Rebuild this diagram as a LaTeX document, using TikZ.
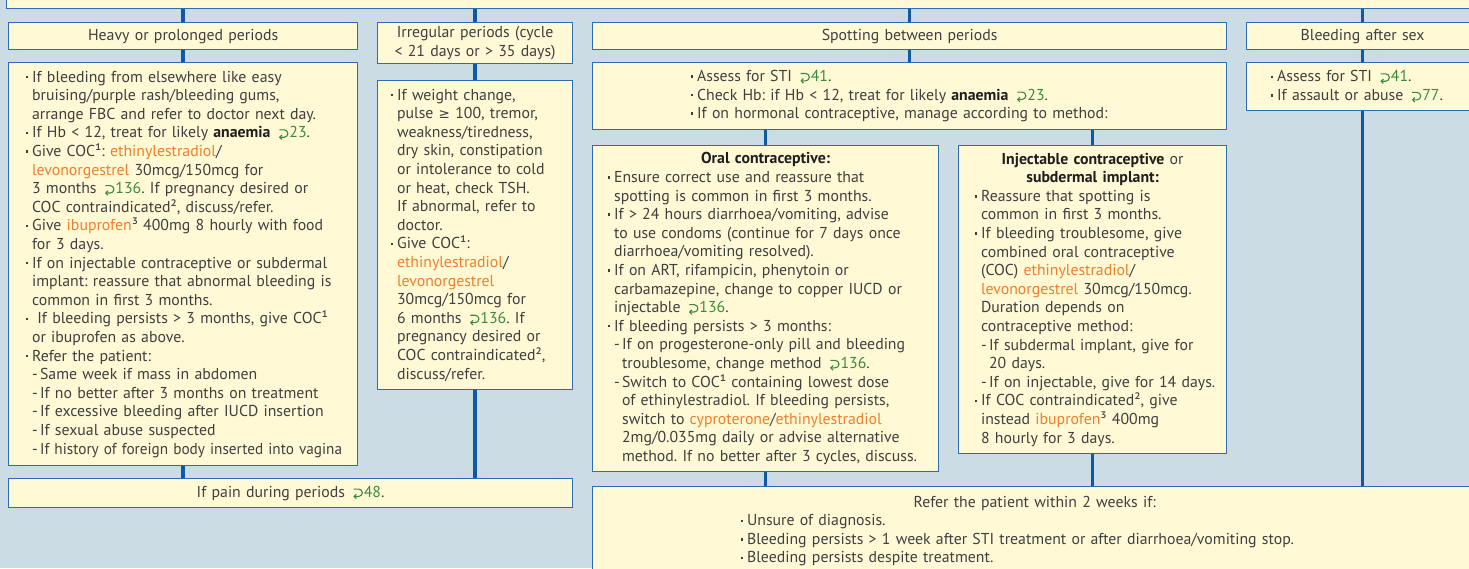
\documentclass[tikz,border=0pt]{standalone}
\usepackage{fontspec}
\setmainfont{PT Sans}
\newfontfamily\symfont{DejaVu Sans}
\usetikzlibrary{backgrounds,arrows.meta}

\definecolor{bgblue}{HTML}{CCDCE4}
\definecolor{boxfill}{HTML}{FFF9D6}
\definecolor{boxline}{HTML}{2D6BB3}
\definecolor{connblue}{HTML}{0C5AA6}
\definecolor{textgrey}{HTML}{3F3F3F}
\definecolor{titleblack}{HTML}{1E1E1E}
\definecolor{drugorange}{HTML}{EF7F2C}
\definecolor{refgreen}{HTML}{3A8A3C}

% list helpers: bullet, continuation indent, dash item, dash continuation
\newcommand\bu{\makebox[6.5pt][l]{\raisebox{3.8pt}{\rule{2.4pt}{2.4pt}}}}
\newcommand\cn{\hspace*{6.5pt}}
\newcommand\ds{\hspace*{6.5pt}\makebox[8pt][l]{-}}
\newcommand\dc{\hspace*{14.5pt}}
\newcommand\drug[1]{\textcolor{drugorange}{#1}}
\newcommand\hl[1]{\textbf{\textcolor{titleblack}{#1}}}
% page cross-reference: hooked return arrow plus page number
\newcommand\pref[1]{\,\tikz[baseline=0pt]\draw[refgreen,line width=1.1pt,-{Straight Barb[length=2.2pt,width=4.6pt]}] (0.5pt,8pt) -- (5.4pt,8pt) arc[start angle=90,end angle=-90,radius=3.7pt] -- (0.2pt,0.6pt);\hspace{1pt}\textcolor{refgreen}{#1}}

\tikzset{
  box/.style={draw=boxline, line width=1.2pt, fill=boxfill, anchor=north west,
    inner sep=0pt, align=left, text=textgrey,
    font=\fontsize{15.8}{18.6}\selectfont\frenchspacing},
  head/.style={box, align=center},
  dims/.style n args={2}{minimum width=#1pt, minimum height=#2pt, text width=#1pt},
  conn/.style={draw=connblue, line width=3.4pt},
}

\begin{document}
\begin{tikzpicture}[x=1pt, y=-1pt]
\useasboundingbox (0,0) rectangle (1469,568);
\clip (0,0) rectangle (1469,568);

% top question box
\node[box, anchor=south west, minimum width=1480pt, minimum height=40pt] (top) at (6,9) {};

% bleeding patterns
\node[head, dims={349}{27}] (h1) at (8,22) {Heavy or prolonged periods};
\node[head, dims={195}{41}] (h2) at (377,22) {Irregular periods (cycle\\< 21 days or > 35 days)};
\node[head, dims={634}{27}] (h3) at (592,22) {Spotting between periods};
\node[head, dims={232}{27}] (h4) at (1246,22) {Bleeding after sex};

% heavy or prolonged periods
\node[box, dims={349}{403}] (c1) at (8,62) {\leftskip=17pt
\bu If bleeding from elsewhere like easy\\
\cn bruising/purple rash/bleeding gums,\\
\cn arrange FBC and refer to doctor next day.\\
\bu If Hb < 12, treat for likely \hl{anaemia} \pref{23}.\\
\bu Give COC¹: \drug{ethinylestradiol}/\\
\cn \drug{levonorgestrel} 30mcg/150mcg for\\
\cn 3 months \pref{136}. If pregnancy desired or\\
\cn COC contraindicated², discuss/refer.\\
\bu Give \drug{ibuprofen}³ 400mg 8 hourly with food\\
\cn for 3 days.\\
\bu If on injectable contraceptive or subdermal\\
\cn implant: reassure that abnormal bleeding is\\
\cn common in first 3 months.\\
\bu\ If bleeding persists > 3 months, give COC¹\\
\cn or ibuprofen as above.\\
\bu Refer the patient:\\
\ds Same week if mass in abdomen\\
\ds If no better after 3 months on treatment\\
\ds If excessive bleeding after IUCD insertion\\
\ds If sexual abuse suspected\\
\ds \scalebox{0.965}[1]{If history of foreign body inserted into vagina}\par};

% irregular periods
\node[box, dims={195}{309}] (c2) at (377,80) {\leftskip=13pt
\bu If weight change,\\
\cn pulse {\symfont\fontsize{13.5}{18.6}\selectfont ≥} 100, tremor,\\
\cn weakness/tiredness,\\
\cn dry skin, constipation\\
\cn or intolerance to cold\\
\cn or heat, check TSH.\\
\cn If abnormal, refer to\\
\cn doctor.\\
\bu Give COC¹:\\
\cn \drug{ethinylestradiol}/\\
\cn \drug{levonorgestrel}\\
\cn 30mcg/150mcg for\\
\cn 6 months \pref{136}. If\\
\cn pregnancy desired or\\
\cn COC contraindicated²,\\
\cn discuss/refer.\par};

% spotting between periods
\node[box, dims={634}{67}] (c3) at (592,62) {\leftskip=98pt
\bu Assess for STI \pref{41}.\\
\bu Check Hb: if Hb < 12, treat for likely \hl{anaemia} \pref{23}.\\
\bu If on hormonal contraceptive, manage according to method:\par};

\node[box, dims={346}{326}] (oral) at (592,145) {\leftskip=15pt
\makebox[316pt][c]{\hl{Oral contraceptive:}}\\
\bu Ensure correct use and reassure that\\
\cn spotting is common in first 3 months.\\
\bu If > 24 hours diarrhoea/vomiting, advise\\
\cn to use condoms (continue for 7 days once\\
\cn diarrhoea/vomiting resolved).\\
\bu If on ART, rifampicin, phenytoin or\\
\cn carbamazepine, change to copper IUCD or\\
\cn injectable \pref{136}.\\
\bu If bleeding persists > 3 months:\\
\ds If on progesterone-only pill and bleeding\\
\dc troublesome, change method \pref{136}.\\
\ds Switch to COC¹ containing lowest dose\\
\dc of ethinylestradiol. If bleeding persists,\\
\dc switch to \drug{cyproterone}/\drug{ethinylestradiol}\\
\dc 2mg/0.035mg daily or advise alternative\\
\dc method. If no better after 3 cycles, discuss.\par};

\node[box, dims={268}{308}] (inj) at (958,145) {\leftskip=16pt
\makebox[236pt][c]{\hl{Injectable contraceptive} or}\\
\makebox[236pt][c]{\hl{subdermal implant:}}\\
\bu Reassure that spotting is\\
\cn common in first 3 months.\\
\bu If bleeding troublesome, give\\
\cn combined oral contraceptive\\
\cn (COC) \drug{ethinylestradiol}/\\
\cn \drug{levonorgestrel} 30mcg/150mcg.\\
\cn Duration depends on\\
\cn contraceptive method:\\
\ds If subdermal implant, give for\\
\dc 20 days.\\
\ds If on injectable, give for 14 days.\\
\bu If COC contraindicated², give\\
\cn instead \drug{ibuprofen}³ 400mg\\
\cn 8 hourly for 3 days.\par};

% bleeding after sex
\node[box, dims={232}{48}] (c4) at (1246,62) {\leftskip=24pt
\bu Assess for STI \pref{41}.\\
\bu If assault or abuse \pref{77}.\par};

% bottom boxes
\node[head, dims={564}{29}] (pain) at (8,478) {If pain during periods \pref{48}.};

\node[box, dims={886}{89}] (refer) at (592,486) {\leftskip=148pt
\hspace*{173pt}Refer the patient within 2 weeks if:\\
\bu Unsure of diagnosis.\\
\bu Bleeding persists > 1 week after STI treatment or after diarrhoea/vomiting stop.\\
\bu Bleeding persists despite treatment.\par};

\begin{scope}[on background layer]
  \fill[bgblue] (0,0) rectangle (1469,568);
  % top box to the four patterns
  \draw[conn] (h1.north |- top.south) -- (h1.north);
  \draw[conn] (h2.north |- top.south) -- (h2.north);
  \draw[conn] (h3.north |- top.south) -- (h3.north);
  \draw[conn] (h4.north |- top.south) -- (h4.north);
  % heavy / irregular
  \draw[conn] (h1.south) -- (c1.north);
  \draw[conn] (c1.south) -- (c1.south |- pain.north);
  \draw[conn] (h2.south) -- (c2.north);
  \draw[conn] (c2.south) -- (c2.south |- pain.north);
  % spotting
  \draw[conn] (h3.south) -- (c3.north);
  \draw[conn] (oral.north |- c3.south) -- (oral.north);
  \draw[conn] (inj.north |- c3.south) -- (inj.north);
  \draw[conn] (oral.south) -- (oral.south |- refer.north);
  \draw[conn] (inj.south) -- (inj.south |- refer.north);
  % after sex
  \draw[conn] (h4.south) -- (c4.north);
  \draw[conn] (c4.south) -- (c4.south |- refer.north);
\end{scope}
\end{tikzpicture}
\end{document}
